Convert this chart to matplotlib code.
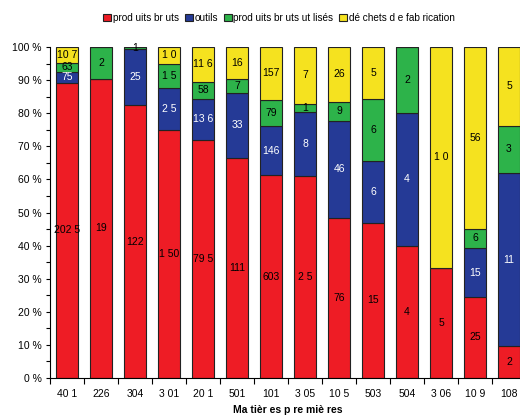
import matplotlib
matplotlib.use("Agg")
import matplotlib.pyplot as plt
import numpy as np
from matplotlib.ticker import MultipleLocator, FuncFormatter

plt.rcParams["font.family"] = ["Liberation Sans", "DejaVu Sans"]

categories = ["40 1", "226", "304", "3 01", "20 1", "501", "101", "3 05",
              "10 5", "503", "504", "3 06", "10 9", "108"]
series_names = ["prod uits br uts", "outils", "prod uits br uts ut lisés",
                "dé chets d e fab rication"]
produits_bruts = [2025, 19, 122, 150, 795, 111, 603, 25, 76, 15, 4, 5, 25, 2]
outils = [75, 0, 25, 25, 136, 33, 146, 8, 46, 6, 4, 0, 15, 11]
produits_utilises = [63, 2, 1, 15, 58, 7, 79, 1, 9, 6, 2, 0, 6, 3]
dechets = [107, 0, 0, 10, 116, 16, 157, 7, 26, 5, 0, 10, 56, 5]

labels_pb = ["202 5", "19", "122", "1 50", "79 5", "111", "603", "2 5", "76",
             "15", "4", "5", "25", "2"]
labels_out = ["75", "", "25", "2 5", "13 6", "33", "146", "8", "46", "6", "4",
              "", "15", "11"]
labels_pu = ["63", "2", "1", "1 5", "58", "7", "79", "1", "9", "6", "2", "",
             "6", "3"]
labels_dec = ["10 7", "", "", "1 0", "11 6", "16", "157", "7", "26", "5", "",
              "1 0", "56", "5"]

colors = ["#EE1C25", "#253A96", "#2DB34A", "#F5E21F"]
text_colors = ["black", "white", "black", "black"]

data = np.array([produits_bruts, outils, produits_utilises, dechets], dtype=float)
labels = [labels_pb, labels_out, labels_pu, labels_dec]
totals = data.sum(axis=0)
pct = data / totals * 100

FS = 7.5
W, H = 520, 418
fig = plt.figure(figsize=(W / 100, H / 100), dpi=100)
ax = fig.add_axes([50 / W, 40 / H, 476 / W, 331 / H])

x = np.arange(len(categories))
bottom = np.zeros(len(categories))
handles = []
for i in range(4):
    b = ax.bar(x, pct[i], bottom=bottom, width=0.67, color=colors[i],
               edgecolor="#222222", linewidth=0.8, label=series_names[i])
    handles.append(b)
    for j in range(len(categories)):
        if pct[i][j] > 0 and labels[i][j]:
            ax.text(x[j], bottom[j] + pct[i][j] / 2, labels[i][j],
                    ha="center", va="center", fontsize=FS,
                    color=text_colors[i])
    bottom += pct[i]

ax.set_xlim(-0.5, len(categories) - 0.5)
ax.set_ylim(0, 100)
ax.spines["top"].set_visible(False)
ax.spines["right"].set_visible(False)
ax.spines["left"].set_linewidth(0.8)
ax.spines["bottom"].set_linewidth(0.8)

ax.yaxis.set_major_locator(MultipleLocator(10))
ax.yaxis.set_minor_locator(MultipleLocator(5))
ax.yaxis.set_major_formatter(FuncFormatter(lambda v, p: f"{int(round(v))} %"))
ax.tick_params(axis="y", which="both", length=3, width=0.8, labelsize=FS,
               pad=3)

ax.set_xticks(np.arange(len(categories) + 1) - 0.5)
ax.set_xticklabels([])
ax.set_xticks(x, minor=True)
ax.set_xticklabels(categories, minor=True, fontsize=FS)
ax.tick_params(axis="x", which="major", length=4, width=0.8, direction="out")
ax.tick_params(axis="x", which="minor", length=0, pad=8)

fig.text(288 / W, 1 - 410 / H, "Ma tièr es p re miè res", ha="center",
         va="center", fontsize=FS, fontweight="bold")

fig.legend(handles=handles, labels=series_names, loc="center",
           bbox_to_anchor=(279 / W, 1 - 18 / H), ncol=4, frameon=False,
           fontsize=7.2, handlelength=0.8, handleheight=0.8,
           handletextpad=0.15, columnspacing=0.6, borderaxespad=0)

fig.savefig("out.png", dpi=100)
